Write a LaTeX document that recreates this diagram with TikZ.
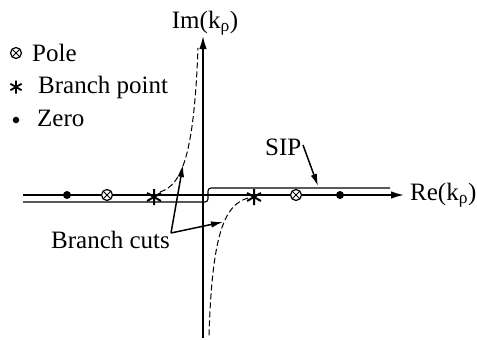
\documentclass[tikz,border=0pt]{standalone}
\usepackage{fontspec}
\setmainfont{Liberation Serif}
\usetikzlibrary{arrows.meta}
\tikzset{
  x=1pt, y=-1pt,
  axisline/.style={line width=1.6pt, -{Latex[length=13pt,width=7.5pt]}},
  sipline/.style={line width=1.1pt, rounded corners=3pt},
  cutline/.style={line width=1pt, dash pattern=on 6pt off 3pt},
  ptr/.style={line width=1.5pt, -{Latex[length=12pt,width=6.5pt]}},
  lab/.style={font=\fontsize{25}{30}\selectfont, inner sep=0pt},
  zeropt/.style={circle, fill, minimum size=8pt, inner sep=0pt},
  polept/.style={circle, draw, line width=1.2pt, minimum size=11pt, inner sep=0pt,
    path picture={\draw[line width=1pt]
      (path picture bounding box.north west) -- (path picture bounding box.south east)
      (path picture bounding box.north east) -- (path picture bounding box.south west);}},
  branchpt/.style={circle, minimum size=18pt, inner sep=0pt,
    path picture={\draw[line width=2pt]
      ([shift={(90:8)}]path picture bounding box.center) -- ([shift={(270:8)}]path picture bounding box.center)
      ([shift={(30:8)}]path picture bounding box.center) -- ([shift={(210:8)}]path picture bounding box.center)
      ([shift={(150:8)}]path picture bounding box.center) -- ([shift={(330:8)}]path picture bounding box.center);}},
  legbranch/.style={circle, minimum size=15pt, inner sep=0pt,
    path picture={\draw[line width=1.8pt]
      ([shift={(90:6.5)}]path picture bounding box.center) -- ([shift={(270:6.5)}]path picture bounding box.center)
      ([shift={(30:6.5)}]path picture bounding box.center) -- ([shift={(210:6.5)}]path picture bounding box.center)
      ([shift={(150:6.5)}]path picture bounding box.center) -- ([shift={(330:6.5)}]path picture bounding box.center);}},
}
\begin{document}
\begin{tikzpicture}
\useasboundingbox (0,0) rectangle (477,340);
% axes
\coordinate (xs) at (23,195);
\coordinate (xe) at (404,195);
\coordinate (ys) at (203,338);
\coordinate (ye) at (203,36);
\draw[axisline] (xs) -- (xe);
\draw[axisline] (ys) -- (ye);
\node[lab, anchor=base west] (relab) at (410,200) {Re(k\textsubscript{ρ})};
\node[lab, anchor=base] (imlab) at (205,28) {Im(k\textsubscript{ρ})};
% SIP contour
\coordinate (sipa) at (23,202);
\coordinate (sipb) at (208,202);
\coordinate (sipc) at (208,188);
\coordinate (sipd) at (390,188);
\draw[sipline] (sipa) -- (sipb) -- (sipc) -- (sipd);
% singularities
\node[zeropt] (z1) at (67,195) {};
\node[polept, fill=white] (p1) at (107,195) {};
\node[branchpt] (b1) at (154,197) {};
\node[branchpt] (b2) at (254,197) {};
\node[polept, fill=white] (p2) at (296,195) {};
\node[zeropt] (z2) at (340,195) {};
% branch cuts
\coordinate (ltop) at (198,48);
\coordinate (rbot) at (209,336);
\draw[cutline] (160,192) .. controls (182,185) and (194,155) .. (ltop);
\draw[cutline] (248,198) .. controls (224,205) and (212,235) .. (rbot);
% labels with pointers
\node[lab, anchor=base west] (cuts) at (51,248) {Branch cuts};
\coordinate (cutsrc) at (171,233);
\coordinate (cuttipa) at (183,165);
\coordinate (cuttipb) at (223,222);
\draw[ptr] (cutsrc) -- (cuttipa);
\draw[ptr] (cutsrc) -- (cuttipb);
\node[lab, anchor=base west] (sip) at (265,155) {SIP};
\coordinate (sipsrc) at (303,145);
\coordinate (siptip) at (318,186);
\draw[ptr] (sipsrc) -- (siptip);
% legend
\node[polept, minimum size=11pt] (lp) at (16,53) {};
\node[lab, anchor=base west] (lpt) at (32,61) {Pole};
\node[legbranch] (lb) at (16,87) {};
\node[lab, anchor=base west] (lbt) at (38,93) {Branch point};
\node[zeropt, minimum size=6.5pt] (lz) at (16,120) {};
\node[lab, anchor=base west] (lzt) at (37,126) {Zero};
\end{tikzpicture}
\end{document}
